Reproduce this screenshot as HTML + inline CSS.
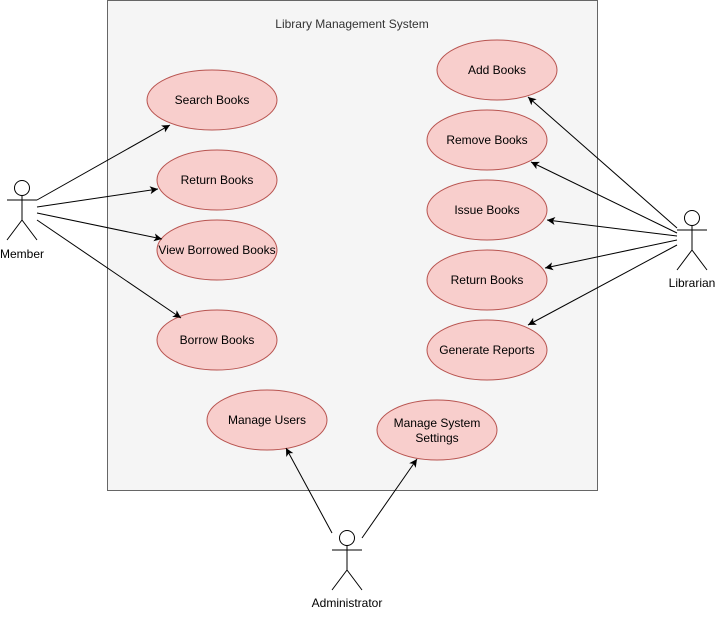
<!DOCTYPE html>
<html><head><style>body{margin:0;background:#fff}</style></head><body>
<svg width="716" height="612" xmlns="http://www.w3.org/2000/svg" font-family="Liberation Sans, sans-serif" font-size="12">
<defs><marker id="a" markerWidth="10" markerHeight="10" refX="9" refY="5" orient="auto" markerUnits="userSpaceOnUse"><path d="M1,1 L9,5 L1,9 L3,5 Z" fill="#000"/></marker></defs>
<rect x="107.5" y="0.5" width="490" height="490" fill="#f5f5f5" stroke="#666"/>
<text x="352" y="28" text-anchor="middle" fill="#333">Library Management System</text>
<g fill="#f8cecc" stroke="#b85450">
<ellipse cx="212" cy="100" rx="65" ry="30"/>
<ellipse cx="217" cy="180" rx="60" ry="30"/>
<ellipse cx="217" cy="250" rx="60" ry="30"/>
<ellipse cx="217" cy="340" rx="60" ry="30"/>
<ellipse cx="497" cy="70" rx="60" ry="30"/>
<ellipse cx="487" cy="140" rx="60" ry="30"/>
<ellipse cx="487" cy="210" rx="60" ry="30"/>
<ellipse cx="487" cy="280" rx="60" ry="30"/>
<ellipse cx="487" cy="350" rx="60" ry="30"/>
<ellipse cx="267" cy="420" rx="60" ry="30"/>
<ellipse cx="437" cy="430" rx="60" ry="30"/>
</g>
<g text-anchor="middle" fill="#000">
<text x="212" y="104">Search Books</text>
<text x="217" y="184">Return Books</text>
<text x="217" y="254">View Borrowed Books</text>
<text x="217" y="344">Borrow Books</text>
<text x="497" y="74">Add Books</text>
<text x="487" y="144">Remove Books</text>
<text x="487" y="214">Issue Books</text>
<text x="487" y="284">Return Books</text>
<text x="487" y="354">Generate Reports</text>
<text x="267" y="424">Manage Users</text>
<text x="437" y="427">Manage System</text>
<text x="437" y="442">Settings</text>
<text x="22" y="258">Member</text>
<text x="692" y="287">Librarian</text>
<text x="347" y="607">Administrator</text>
</g>
<g stroke="#000" fill="none" stroke-width="1">
<circle cx="22" cy="188" r="7.5" fill="#fff"/>
<path d="M22,195.5V220M7,200H37M22,220L7,240M22,220L37,240"/>
<circle cx="692" cy="218" r="7.5" fill="#fff"/>
<path d="M692,225.5V250M677,230H707M692,250L677,270M692,250L707,270"/>
<circle cx="347" cy="538" r="7.5" fill="#fff"/>
<path d="M347,545.5V570M332,550H362M347,570L332,590M347,570L362,590"/>
<g marker-end="url(#a)">
<line x1="37" y1="200" x2="170" y2="125"/>
<line x1="37" y1="207" x2="158" y2="189"/>
<line x1="37" y1="213" x2="162" y2="239"/>
<line x1="37" y1="220" x2="181" y2="318"/>
<line x1="677" y1="228" x2="528" y2="97"/>
<line x1="677" y1="233" x2="531" y2="162"/>
<line x1="677" y1="236" x2="547" y2="220"/>
<line x1="677" y1="240" x2="545" y2="268"/>
<line x1="677" y1="245" x2="528" y2="325"/>
<line x1="332" y1="533" x2="286" y2="448"/>
<line x1="362" y1="538" x2="417" y2="459"/>
</g>
</g>
</svg>
</body></html>
